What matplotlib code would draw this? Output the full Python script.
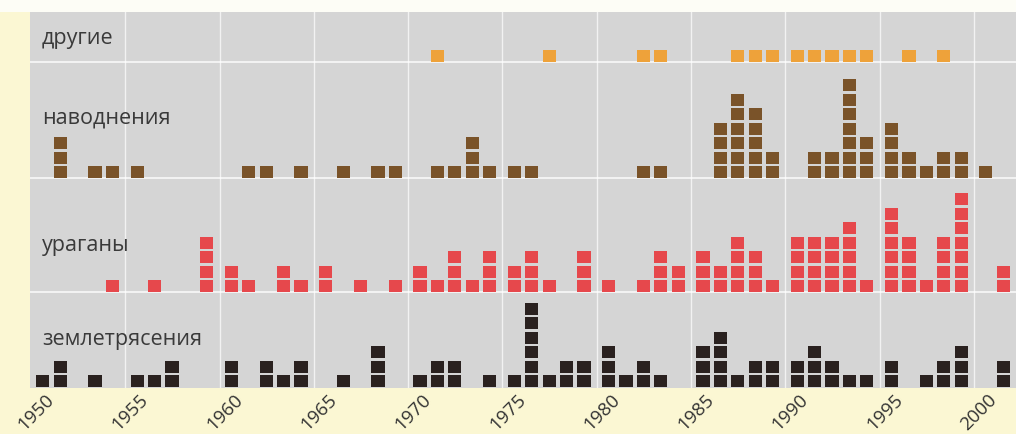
import matplotlib.pyplot as plt
from matplotlib.transforms import ScaledTranslation

# years with events and number of events (one square per event)
other_years = [1971, 1977, 1982, 1983, 1987, 1988, 1989, 1990, 1991, 1992, 1993, 1994, 1996, 1998]
other_counts = [1] * len(other_years)

flood_years = [1951, 1953, 1954, 1955, 1961, 1962, 1964, 1966, 1968, 1969, 1971, 1972, 1973,
               1974, 1975, 1976, 1982, 1983, 1986, 1987, 1988, 1989, 1991, 1992, 1993, 1994,
               1995, 1996, 1997, 1998, 1999, 2000]
flood_counts = [3, 1, 1, 1, 1, 1, 1, 1, 1, 1, 1, 1, 3,
                1, 1, 1, 1, 1, 4, 6, 5, 2, 2, 2, 7, 3,
                4, 2, 1, 2, 2, 1]

hurricane_years = [1954, 1956, 1959, 1960, 1961, 1963, 1964, 1965, 1967, 1969, 1970, 1971, 1972,
                   1973, 1974, 1975, 1976, 1977, 1979, 1980, 1982, 1983, 1984, 1985, 1986, 1987,
                   1988, 1989, 1990, 1991, 1992, 1993, 1994, 1995, 1996, 1997, 1998, 1999, 2001]
hurricane_counts = [1, 1, 4, 2, 1, 2, 1, 2, 1, 1, 2, 1, 3,
                    1, 3, 2, 3, 1, 3, 1, 1, 3, 2, 3, 2, 4,
                    3, 1, 4, 4, 4, 5, 1, 6, 4, 1, 4, 7, 2]

quake_years = [1950, 1951, 1953, 1955, 1956, 1957, 1960, 1962, 1963, 1964, 1966, 1968, 1970,
               1971, 1972, 1974, 1975, 1976, 1977, 1978, 1979, 1980, 1981, 1982, 1983, 1985,
               1986, 1987, 1988, 1989, 1990, 1991, 1992, 1993, 1994, 1995, 1997, 1998, 1999, 2001]
quake_counts = [1, 2, 1, 1, 1, 2, 2, 2, 1, 2, 1, 3, 1,
                2, 2, 1, 1, 6, 1, 2, 2, 3, 1, 2, 1, 3,
                4, 1, 2, 2, 2, 3, 2, 1, 1, 2, 1, 2, 3, 2]

row_names = ["другие", "наводнения", "ураганы", "землетрясения"]
row_colors = ["#eea23a", "#7a5329", "#e6484c", "#2a211f"]
tick_years = list(range(1950, 2001, 5))

# layout (y in image pixels, x in "year" units with gaps between 5-year blocks)
baselines = [62, 178, 292, 387]
label_y = [44, 123, 251, 345]
pitch_x = 0.9226
offset_x = 0.63
sq_w = 0.70
pitch_y = 14.5
sq_h = 12.0


def xpos(year):
    block = (year - 1950) // 5
    slot = (year - 1950) % 5
    return 1950 + 5 * block + offset_x + pitch_x * slot


fig = plt.figure(figsize=(10.16, 4.34), dpi=100)
fig.patch.set_facecolor("#fbf7d3")
fig.patches.append(plt.Rectangle((0, 1 - 12 / 434), 1, 12 / 434, transform=fig.transFigure,
                                 facecolor="#fdfdf6", edgecolor="none"))

ax = fig.add_axes([30 / 1016, 46 / 434, 986 / 1016, 376 / 434])
ax.set_facecolor("#d5d5d5")
ax.set_xlim(1949.95, 1950 + (1016 - 31) / 94.3 * 5)
ax.set_ylim(388, 12)

for yr in tick_years[1:]:
    ax.axvline(yr, color="white", lw=1.0, alpha=0.7, zorder=1)
for b in baselines[:3]:
    ax.axhline(b, color="white", lw=1.2, alpha=0.85, zorder=1)

rows = [(other_years, other_counts), (flood_years, flood_counts),
        (hurricane_years, hurricane_counts), (quake_years, quake_counts)]

for (years, counts), base, color in zip(rows, baselines, row_colors):
    xs, bottoms = [], []
    for yr, n in zip(years, counts):
        for k in range(n):
            xs.append(xpos(yr))
            bottoms.append(base - k * pitch_y - sq_h)
    ax.bar(xs, sq_h, bottom=bottoms, width=sq_w, color=color, zorder=3)

for name, ly in zip(row_names, label_y):
    ax.text(1949.95 + 12 / 94.3 * 5, ly, name, fontsize=15.5, family="Open Sans",
            color="#3a3a3a", va="baseline", ha="left", zorder=4)

ax.set_yticks([])
ax.set_xticks(tick_years)
ax.set_xticklabels([str(y) for y in tick_years], rotation=45, ha="center",
                   fontsize=13.5, family="Open Sans", color="#333333")
ax.tick_params(axis="x", length=0, pad=2)
shift = ScaledTranslation(5 / 100, 0, fig.dpi_scale_trans)
for lbl in ax.get_xticklabels():
    lbl.set_transform(lbl.get_transform() + shift)
for s in ax.spines.values():
    s.set_visible(False)

plt.savefig("out.png", dpi=100, facecolor=fig.get_facecolor())
